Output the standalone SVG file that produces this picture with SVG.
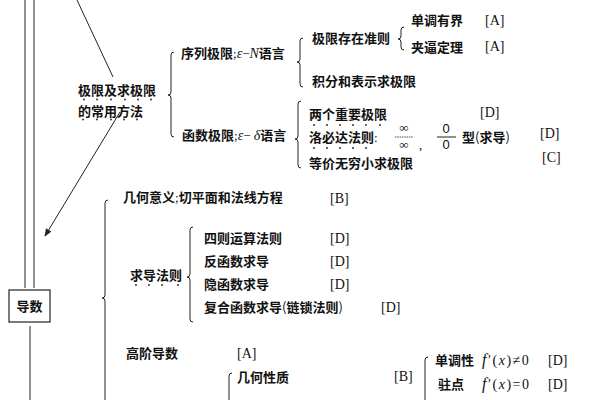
<svg xmlns="http://www.w3.org/2000/svg" width="600" height="400" viewBox="0 0 600 400">
<defs>
<style>
text{font-family:"Noto Sans CJK SC","Liberation Serif",serif;font-size:13px;fill:#111;font-weight:bold}
.m{font-family:"Liberation Serif","Noto Sans CJK SC",serif;font-weight:normal;font-size:13px}
.b{font-family:"Liberation Serif",serif;font-weight:normal;font-size:14px}
.mi{font-family:"Liberation Serif",serif;font-style:italic;font-weight:normal}
.f{font-family:"Liberation Serif",serif;font-weight:normal;font-size:14px;letter-spacing:1.5px}
.br{fill:none;stroke:#222;stroke-width:1}
.ln{fill:none;stroke:#222;stroke-width:1}
.dot{fill:#222}
</style>
<marker id="ah" viewBox="0 0 10 10" refX="9" refY="5" markerWidth="8" markerHeight="8" orient="auto-start-reverse" markerUnits="userSpaceOnUse">
<path d="M0,1 L10,5 L0,9 z" fill="#222"/>
</marker>
</defs>
<rect width="600" height="400" fill="#fff"/>

<g id="connectors">
<line class="ln" x1="25" y1="0" x2="25" y2="288"/>
<line class="ln" x1="34" y1="0" x2="34" y2="288"/>
<line class="ln" x1="30" y1="326" x2="30" y2="400"/>
<line class="ln" x1="77" y1="0" x2="113" y2="77"/>
<line class="ln" x1="120" y1="112" x2="45" y2="236" marker-end="url(#ah)"/>
</g>

<g id="node-daoshu">
<rect x="9" y="290" width="41" height="32" fill="#fff" stroke="#222" stroke-width="1.2"/>
<text x="29.5" y="311" text-anchor="middle">导数</text>
</g>

<g id="node-jixian">
<text x="78" y="95">极限及求极限</text>
<text x="78" y="116">的常用方法</text>
<g class="dot">
<circle cx="84" cy="99.5" r="0.9"/><circle cx="97" cy="99.5" r="0.9"/><circle cx="111" cy="99.5" r="0.9"/><circle cx="125" cy="99.5" r="0.9"/><circle cx="138" cy="99.5" r="0.9"/><circle cx="151" cy="99.5" r="0.9"/>
<circle cx="83" cy="119.5" r="0.9"/><circle cx="97" cy="119.5" r="0.9"/><circle cx="111" cy="119.5" r="0.9"/><circle cx="124" cy="119.5" r="0.9"/><circle cx="137" cy="119.5" r="0.9"/>
</g>
<path class="br" d="M174,52 Q171,52 171,55 L171,92 Q171,95 168,95 Q171,95 171,98 L171,134 Q171,137 174,137"/>
</g>

<g id="node-xulie">
<text x="181" y="58">序列极限<tspan class="m">;</tspan><tspan class="mi" font-size="14">ε</tspan><tspan class="m" font-size="14">−</tspan><tspan class="mi" font-size="14">N</tspan>语言</text>
<path class="br" d="M303,38 Q300,38 300,41 L300,59 Q300,62 297,62 Q300,62 300,65 L300,84 Q300,87 303,87"/>
<text x="312" y="43">极限存在准则</text>
<path class="br" d="M404,27 Q401,27 401,30 L401,36 Q401,39 398,39 Q401,39 401,42 L401,47 Q401,50 404,50"/>
<text x="411" y="25">单调有界</text>
<text x="485" y="25" class="b">[A]</text>
<text x="411" y="52">夹逼定理</text>
<text x="485" y="51" class="b">[A]</text>
<text x="312" y="86">积分和表示求极限</text>
</g>

<g id="node-hanshu">
<text x="182" y="140">函数极限<tspan class="m">;</tspan><tspan class="mi" font-size="14">ε</tspan><tspan class="m" font-size="14">− </tspan><tspan class="mi" font-size="14">δ</tspan>语言</text>
<path class="br" d="M301,101 Q298,101 298,104 L298,136 Q298,139 295,139 Q298,139 298,142 L298,165 Q298,168 301,168"/>
<text x="309" y="119">两个重要极限</text>
<text x="480" y="117" class="b">[D]</text>
<g class="dot">
<circle cx="314" cy="125" r="0.9"/><circle cx="327" cy="125" r="0.9"/><circle cx="340" cy="125" r="0.9"/><circle cx="353" cy="125" r="0.9"/><circle cx="366" cy="125" r="0.9"/><circle cx="380" cy="125" r="0.9"/>
</g>
<text x="309" y="142">洛必达法则<tspan class="m">:</tspan></text>
<g class="dot">
<circle cx="314" cy="148" r="0.9"/><circle cx="327" cy="148" r="0.9"/><circle cx="340" cy="148" r="0.9"/><circle cx="353" cy="148" r="0.9"/><circle cx="366" cy="148" r="0.9"/>
</g>
<text x="404" y="132" class="m" text-anchor="middle" font-size="15">∞</text>
<line x1="395" y1="137" x2="413" y2="137" stroke="#222" stroke-width="0.8" stroke-dasharray="1.5,0.8"/>
<text x="404" y="149" class="m" text-anchor="middle" font-size="15">∞</text>
<text x="419" y="149" class="m">,</text>
<text x="446" y="133" text-anchor="middle" class="m" style="font-family:'Liberation Sans',sans-serif" font-size="12">0</text>
<line x1="437" y1="137" x2="456" y2="137" stroke="#222" stroke-width="1"/>
<text x="446" y="149" text-anchor="middle" class="m" style="font-family:'Liberation Sans',sans-serif" font-size="12">0</text>
<text x="462" y="142">型<tspan font-weight="normal">(</tspan>求导<tspan font-weight="normal">)</tspan></text>
<text x="540" y="138" class="b">[D]</text>
<text x="309" y="168">等价无穷小求极限</text>
<text x="542" y="162" class="b">[C]</text>
</g>

<g id="node-daoshu-branches">
<path class="br" d="M108,200 Q105,200 105,203 L105,295 Q105,298 102,298 Q105,298 105,301 L105,400"/>
<text x="123" y="202">几何意义<tspan class="m">;</tspan>切平面和法线方程</text>
<text x="330" y="203" class="b">[B]</text>
</g>

<g id="node-qiudao">
<text x="130" y="280">求导法则</text>
<g class="dot">
<circle cx="136" cy="285" r="0.9"/><circle cx="149" cy="285" r="0.9"/><circle cx="162" cy="285" r="0.9"/><circle cx="178" cy="285" r="0.9"/>
</g>
<path class="br" d="M193,227 Q190,227 190,230 L190,274 Q190,277 187,277 Q190,277 190,280 L190,319 Q190,322 193,322"/>
<text x="204" y="243">四则运算法则</text>
<text x="330" y="243" class="b">[D]</text>
<text x="204" y="266">反函数求导</text>
<text x="330" y="266" class="b">[D]</text>
<text x="204" y="289">隐函数求导</text>
<text x="330" y="289" class="b">[D]</text>
<text x="204" y="312">复合函数求导<tspan font-weight="normal">(</tspan>链锁法则<tspan font-weight="normal">)</tspan></text>
<text x="381" y="312" class="b">[D]</text>
</g>

<g id="node-gaojie">
<text x="126" y="358">高阶导数</text>
<text x="237" y="358" class="b">[A]</text>
<path class="br" d="M232,373 Q229,373 229,376 L229,400"/>
<text x="237" y="382">几何性质</text>
<text x="394" y="381" class="b">[B]</text>
<path class="br" d="M428,357 Q425,357 425,360 L425,400"/>
<text x="435" y="365">单调性</text>
<text x="482" y="365" class="f"><tspan font-style="italic" font-size="16">f</tspan>′(<tspan font-style="italic">x</tspan>)≠0</text>
<text x="548" y="365" class="b">[D]</text>
<text x="438" y="389">驻点</text>
<text x="482" y="389" class="f"><tspan font-style="italic" font-size="16">f</tspan>′(<tspan font-style="italic">x</tspan>)=0</text>
<text x="548" y="389" class="b">[D]</text>
</g>
</svg>
